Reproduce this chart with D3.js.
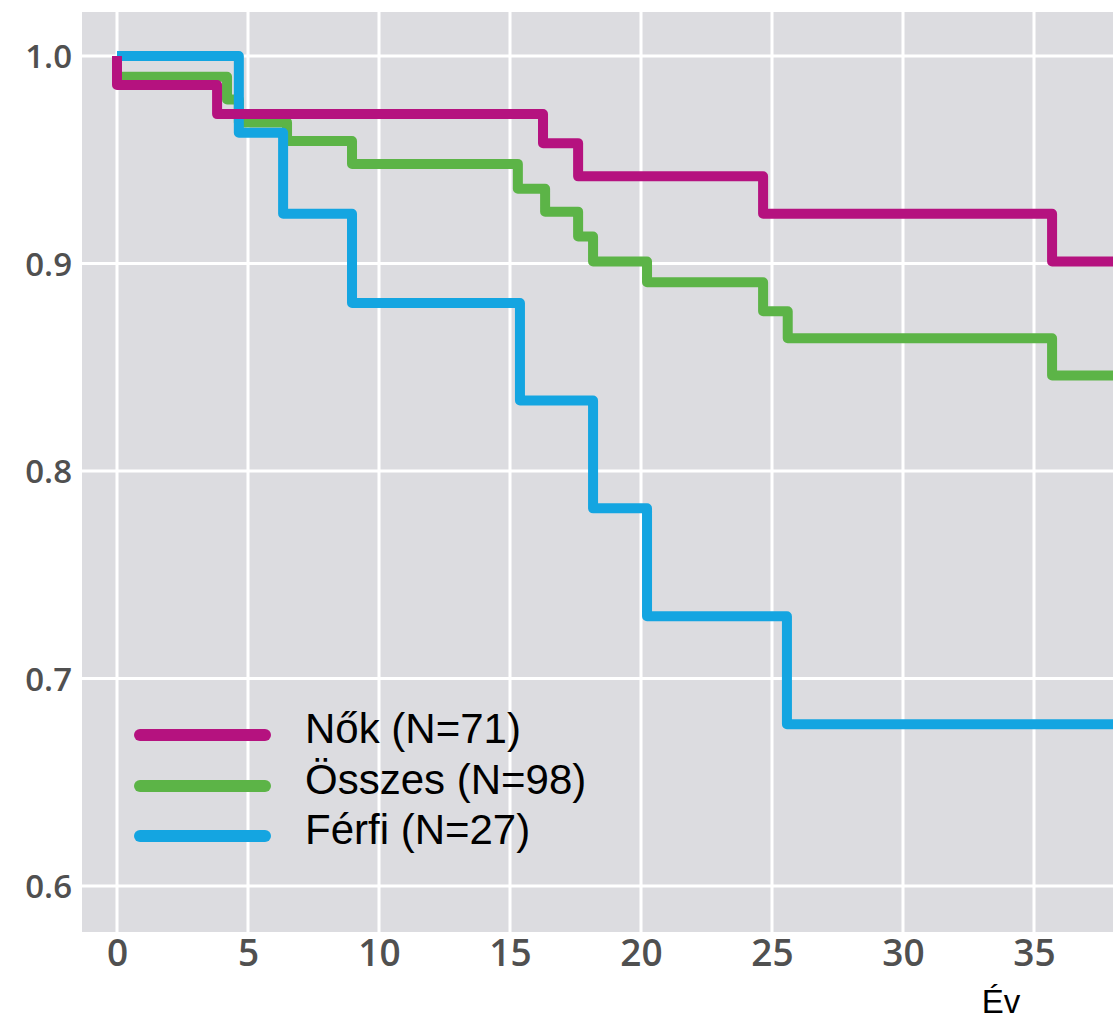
<!DOCTYPE html>
<html lang='hu'>
<head>
<meta charset='utf-8'>
<title>Túlélés</title>
<script src='https://cdn.jsdelivr.net/npm/d3@7'></script>
<style>
  body { margin: 0; background: #fff; }
</style>
</head>
<body>
<script>
// step data (years, survival)
var nok_t = [0, 0, 3.82, 16.26, 17.6, 24.66, 35.69, 40];
var nok_s = [1.0, 0.986, 0.972, 0.958, 0.942, 0.924, 0.901, 0.901];

var ossz_t = [0, 0, 4.2, 4.65, 6.49, 8.97, 15.3, 16.34, 17.6, 18.17, 20.23, 24.66, 25.6, 35.69, 40];
var ossz_s = [1.0, 0.990, 0.979, 0.968, 0.959, 0.948, 0.936, 0.925, 0.913, 0.901, 0.891, 0.877, 0.864, 0.846, 0.846];

var ferfi_t = [0, 4.65, 6.34, 8.97, 15.38, 18.17, 20.23, 25.57, 40];
var ferfi_s = [1.0, 0.963, 0.924, 0.881, 0.834, 0.782, 0.730, 0.678, 0.678];

var labels = ['Nők (N=71)', 'Összes (N=98)', 'Férfi (N=27)'];
var colors = ['#b5127f', '#5cb447', '#14a5e1'];
var x_ticks = [0, 5, 10, 15, 20, 25, 30, 35];
var y_ticks = [0.6, 0.7, 0.8, 0.9, 1.0];

var width = 1113, height = 1019;
var left = 82, top_ = 12, right = 1113, bottom = 932;

var svg = d3.select('body').append('svg').attr('width', width).attr('height', height);

var x_scale = d3.scaleLinear().domain([0, 35]).range([117, 117 + 35 * 26.2]);
var y_scale = d3.scaleLinear().domain([0.6, 1.0]).range([886, 56]);

svg.append('rect').attr('x', left).attr('y', top_).attr('width', right - left).attr('height', bottom - top_)
   .attr('fill', '#dcdce0');

svg.append('clipPath').attr('id', 'clip').append('rect')
   .attr('x', left).attr('y', top_).attr('width', right - left).attr('height', bottom - top_);

// grid
svg.append('g').selectAll('line').data(x_ticks).enter().append('line')
   .attr('x1', d => x_scale(d)).attr('x2', d => x_scale(d))
   .attr('y1', top_).attr('y2', bottom)
   .attr('stroke', '#fff').attr('stroke-width', 3);
svg.append('g').selectAll('line').data(y_ticks).enter().append('line')
   .attr('x1', left).attr('x2', right)
   .attr('y1', d => y_scale(d)).attr('y2', d => y_scale(d))
   .attr('stroke', '#fff').attr('stroke-width', 3);

// axes (text only)
var xa = svg.append('g').attr('transform', 'translate(0,' + bottom + ')')
   .call(d3.axisBottom(x_scale).tickValues(x_ticks).tickSize(0).tickPadding(8));
var ya = svg.append('g').attr('transform', 'translate(' + (left - 10) + ',0)')
   .call(d3.axisLeft(y_scale).tickValues(y_ticks).tickFormat(d3.format('.1f')).tickSize(0).tickPadding(0));
[xa, ya].forEach(function(a) {
  a.select('.domain').remove();
  a.selectAll('text').attr('font-family', 'Open Sans').attr('font-weight', 600).attr('fill', '#505050');
});
xa.selectAll('text').attr('font-size', '37px');
ya.selectAll('text').attr('font-size', '33px').attr('dy', '0.36em');

// curves
var series = [
  {t: ossz_t, s: ossz_s, c: colors[1]},
  {t: ferfi_t, s: ferfi_s, c: colors[2]},
  {t: nok_t, s: nok_s, c: colors[0]}
];
var line = d3.line().curve(d3.curveStepAfter)
   .x(d => x_scale(d[0])).y(d => y_scale(d[1]));
svg.append('g').attr('clip-path', 'url(#clip)').selectAll('path').data(series).enter().append('path')
   .attr('d', d => line(d.t.map((t, i) => [t, d.s[i]])))
   .attr('fill', 'none').attr('stroke', d => d.c).attr('stroke-width', 10)
   .attr('stroke-linejoin', 'round');

// legend
var lg = svg.append('g');
var leg_y = [735, 786, 836];
labels.forEach(function(l, i) {
  lg.append('line').attr('x1', 140).attr('x2', 265).attr('y1', leg_y[i]).attr('y2', leg_y[i])
    .attr('stroke', colors[i]).attr('stroke-width', 12).attr('stroke-linecap', 'round');
  lg.append('text').attr('x', 305).attr('y', leg_y[i] + 8).text(l)
    .attr('font-family', 'Liberation Sans').attr('font-size', '42px').attr('fill', '#000');
});

svg.append('text').attr('x', 1001).attr('y', 1013).attr('text-anchor', 'middle').text('Év')
   .attr('font-family', 'Liberation Sans').attr('font-size', '33px').attr('fill', '#000');
</script>
</body>
</html>
